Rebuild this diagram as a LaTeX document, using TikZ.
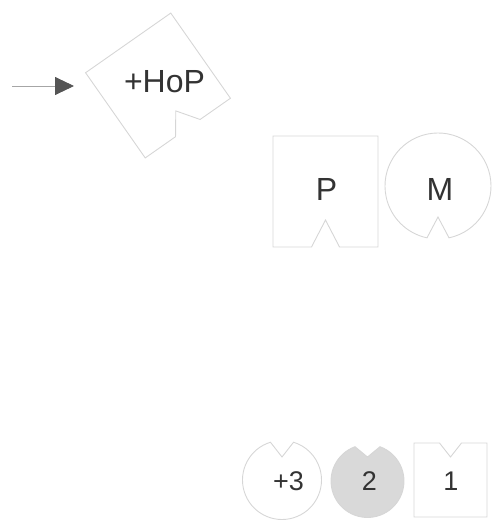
\documentclass[tikz,border=0pt]{standalone}
\usepackage{fontspec}
\setmainfont{Liberation Sans}
\usetikzlibrary{arrows.meta}
\definecolor{edgegray}{HTML}{D6D6D6}
\definecolor{inkgray}{HTML}{333333}
\definecolor{tipgray}{HTML}{555555}
\definecolor{fillgray}{HTML}{D9D9D9}
\begin{document}
\begin{tikzpicture}[x=1pt, y=1pt, outline/.style={draw=edgegray, line width=0.9pt}, shaded/.style={outline, fill=fillgray}, label/.style={inner sep=0pt, anchor=base, text=inkgray}, big/.style={label, font=\fontsize{32}{38}\selectfont}, small/.style={label, font=\fontsize{27}{32}\selectfont}, pointer/.style={draw=gray!70, line width=0.9pt, -{Triangle[length=19pt, width=18pt, color=tipgray]}}]

		\useasboundingbox (0,0) rectangle (491,520);

		% tilted block with the notch
		\draw[outline, shift={(158,434.5)}, rotate=35] (-52,52) -- (52,52) -- (52,-52) -- (15,-52) -- (0,-31) -- (-15,-52) -- (-52,-52) -- cycle;

		\node[label, font=\fontsize{32}{38}\selectfont] (hop) at (164.5,427) {+HoP};

		\coordinate (tail) at (12,434);

		\coordinate (tip) at (74,434);

		\draw[pointer] (tail) -- (tip);

		% middle pair
		\draw[outline, shift={(325.5,328.5)}] (-52.5,55.5) -- (52.5,55.5) -- (52.5,-55.5) -- (14,-55.5) -- (0,-28.5) -- (-14,-55.5) -- (-52.5,-55.5) -- cycle;

		\draw[outline, shift={(438,334)}] (-78:53) arc[start angle=-78, end angle=258, radius=53] -- (0,-31) -- cycle;

		\node[big] (p) at (326.5,319) {P};

		\node[big] (m) at (440,319) {M};

		% bottom row
		\draw[outline, shift={(282,40)}] (107:39.5) arc[start angle=107, end angle=433, radius=39.5] -- (0,23) -- cycle;

		\draw[shaded, shift={(367.5,39)}] (110:36.5) arc[start angle=110, end angle=430, radius=36.5] -- (0,24) -- cycle;

		\draw[outline, shift={(450.5,40)}] (-36.5,-37) -- (36.5,-37) -- (36.5,37) -- (11,37) -- (0,23) -- (-11,37) -- (-36.5,37) -- cycle;

		\node[small] (plus3) at (288.5,30) {+3};

		\node[small] (two) at (369.5,30) {2};

		\node[small] (one) at (451,30) {1};

	\end{tikzpicture}
\end{document}
